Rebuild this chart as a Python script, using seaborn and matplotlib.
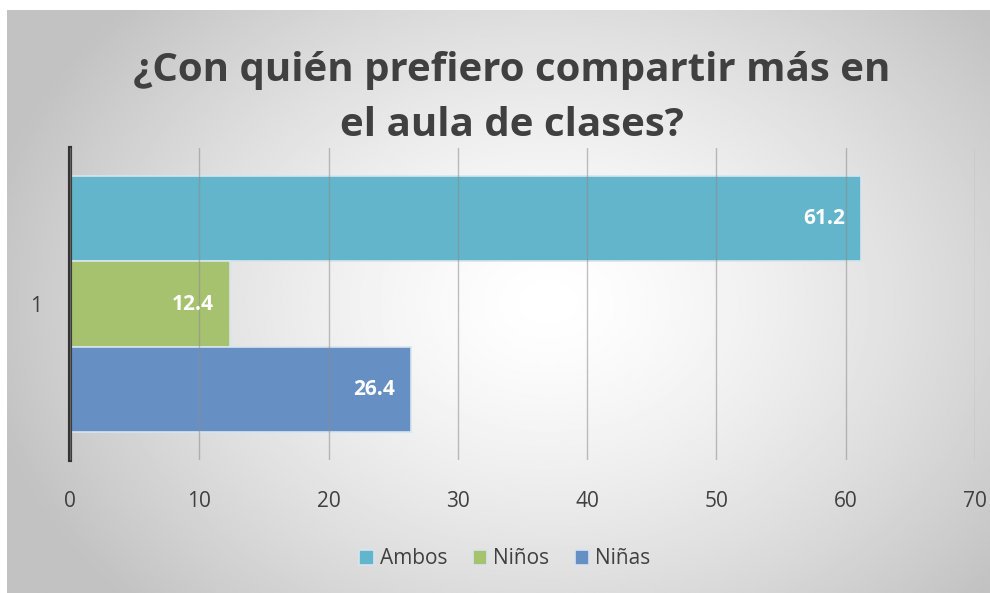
import numpy as np
import matplotlib
matplotlib.use("Agg")
import matplotlib.pyplot as plt
import seaborn as sns
import pandas as pd

# data
categorias = ["Ambos", "Niños", "Niñas"]
valores = [61.2, 12.4, 26.4]
grupo = ["1", "1", "1"]
colores = ["#62b5ca", "#a6c26f", "#6690c4"]
titulo = "¿Con quién prefiero compartir más en\nel aula de clases?"

sns.set_theme(style="white")
plt.rcParams["font.family"] = ["Open Sans", "DejaVu Sans"]

df = pd.DataFrame({"grupo": grupo, "valor": valores, "categoria": categorias})

fig = plt.figure(figsize=(9.9, 5.93), dpi=100)
fig.patch.set_facecolor("white")

# fondo con degradado radial
bg = fig.add_axes([7 / 990, 0, 983 / 990, 583 / 593], zorder=-5)
h, w = 300, 500
yy, xx = np.mgrid[0:h, 0:w]
cx, cy = 0.55 * w, 0.5 * h
r = np.sqrt(((xx - cx) / (0.62 * w)) ** 2 + ((yy - cy) / (0.8 * h)) ** 2)
grad = np.clip(1.0 - 0.26 * r ** 1.4, 0.76, 1.0)
bg.imshow(grad, cmap="gray", vmin=0, vmax=1, aspect="auto", extent=[0, 1, 0, 1])
bg.axis("off")

ax = fig.add_axes([70 / 990, 1 - 460 / 593, 905 / 990, 312 / 593])
ax.patch.set_alpha(0)

sns.barplot(data=df, x="valor", y="grupo", hue="categoria", orient="h",
            palette=colores, width=0.82, saturation=1, ax=ax,
            edgecolor="#d8e4ee", linewidth=1.2, legend=True)

ax.set_xlim(0, 70)
ax.set_ylim(0.5, -0.5)
ax.set_xticks(range(0, 71, 10))
ax.grid(axis="x", color="#8c8c8c", linewidth=1)
ax.set_axisbelow(False)
for line in ax.get_xgridlines():
    line.set_zorder(3)
    line.set_alpha(0.55)
for sp in ["top", "right", "bottom"]:
    ax.spines[sp].set_visible(False)
ax.spines["left"].set_color("#333333")
ax.spines["left"].set_linewidth(3)
ax.set_xlabel("")
ax.set_ylabel("")
ax.tick_params(axis="x", length=0, pad=22, labelsize=15, labelcolor="#404040")
ax.tick_params(axis="y", length=0, pad=20, labelsize=15, labelcolor="#404040")

for cont in ax.containers:
    ax.bar_label(cont, fmt="%.1f", padding=-42, color="white",
                 fontsize=15, fontweight="bold")

handles, labels = ax.get_legend_handles_labels()
ax.legend_.remove()
fig.legend(handles, labels, loc="center", bbox_to_anchor=(505 / 990, 1 - 559 / 593),
           ncol=3, frameon=False, fontsize=15, handlelength=0.7, handleheight=0.7,
           handletextpad=0.3, columnspacing=1.2, labelcolor="#404040")

fig.text(512 / 990, 1 - 98 / 593, titulo, ha="center", va="center",
         fontsize=29, fontweight="bold", color="#404040", linespacing=1.5)

fig.savefig("out.png", dpi=100)
